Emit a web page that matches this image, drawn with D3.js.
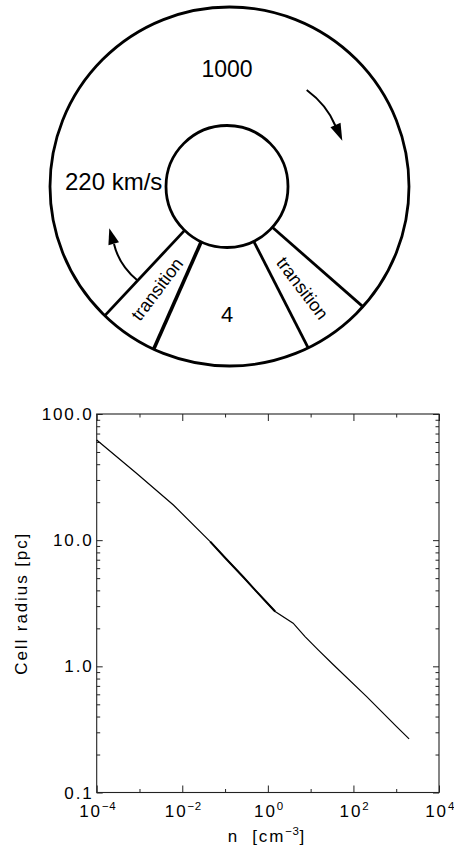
<!DOCTYPE html>
<html>
<head>
<meta charset="utf-8">
<script src="https://cdn.jsdelivr.net/npm/d3@7"></script>
<style>
  html, body { margin: 0; padding: 0; background: #fff; }
  svg { display: block; }
  text { font-family: "Liberation Sans", Arial, Helvetica, sans-serif; fill: #000; }
  .axis-text { font-size: 17px; letter-spacing: 1.9px; white-space: pre; }
</style>
</head>
<body>
<div id="chart"></div>
<script>
// cell radius vs density
const densityN = [1e-4, 8.5e-4, 6.2e-3, 0.045, 0.1, 0.27, 0.5, 0.93, 1.48, 3.9, 7.4, 15, 34, 204, 1020, 2000];
const cellRadius = [62.2, 33.9, 19.0, 9.73, 7.26, 5.08, 4.04, 3.22, 2.72, 2.2, 1.72, 1.35, 1.03, 0.575, 0.333, 0.266];

const yMajorTicks = [0.1, 1, 10, 100];
const yTickLabels = ["0.1", "1.0", "10.0", "100.0"];
const xMajorTicks = [1e-4, 1e-2, 1, 1e2, 1e4];
const xTickExponents = ["\u22124", "\u22122", "0", "2", "4"];
const xMinorTicks = [1e-3, 1e-1, 1e1, 1e3];
const yMinorTicks = [0.1, 1, 10].flatMap((d) => [2, 3, 4, 5, 6, 7, 8, 9].map((m) => d * m));

// ring diagram
const spokeAngles = [134, 115, 64, 42];
const ringLabels = [
  { text: "1000", x: 227, y: 77, size: 23, anchor: "middle" },
  { text: "220 km/s", x: 65, y: 189.5, size: 24, anchor: "start" },
  { text: "4", x: 227, y: 321.5, size: 22, anchor: "middle" }
];
const transitionLabels = [
  { x: 157, y: 289, angle: -53 },
  { x: 302.5, y: 288, angle: 53 }
];

const width = 454;
const height = 846;

const svg = d3.select("#chart")
  .append("svg")
  .attr("width", width)
  .attr("height", height);

function drawRing() {
  const g = svg.append("g");
  const outer = { cx: 229.5, cy: 186.5, r: 179.5 };
  const inner = { cx: 227, cy: 186.5, r: 61 };

  g.append("circle")
    .attr("cx", outer.cx).attr("cy", outer.cy).attr("r", outer.r)
    .attr("fill", "none").attr("stroke", "#000").attr("stroke-width", 2.8);

  g.append("circle")
    .attr("cx", inner.cx).attr("cy", inner.cy).attr("r", inner.r)
    .attr("fill", "none").attr("stroke", "#000").attr("stroke-width", 2.8);

  g.selectAll("line.spoke")
    .data(spokeAngles)
    .enter()
    .append("line")
    .attr("class", "spoke")
    .attr("x1", (a) => inner.cx + inner.r * Math.cos(a * Math.PI / 180))
    .attr("y1", (a) => inner.cy + inner.r * Math.sin(a * Math.PI / 180))
    .attr("x2", (a) => outer.cx + outer.r * Math.cos(a * Math.PI / 180))
    .attr("y2", (a) => outer.cy + outer.r * Math.sin(a * Math.PI / 180))
    .attr("stroke", "#000")
    .attr("stroke-width", (a) => (a === 115 ? 3.6 : 2.8));

  g.selectAll("text.ring-label")
    .data(ringLabels)
    .enter()
    .append("text")
    .attr("class", "ring-label")
    .attr("x", (d) => d.x)
    .attr("y", (d) => d.y)
    .attr("text-anchor", (d) => d.anchor)
    .style("font-size", (d) => `${d.size}px`)
    .text((d) => d.text);

  g.selectAll("text.transition")
    .data(transitionLabels)
    .enter()
    .append("text")
    .attr("class", "transition")
    .attr("transform", (d) => `translate(${d.x},${d.y}) rotate(${d.angle})`)
    .attr("text-anchor", "middle")
    .attr("dy", "0.35em")
    .style("font-size", "18px")
    .text("transition");

  // curved arrows
  const arrows = [
    { path: "M306.7,90 Q327,105 335.5,126", base: [335.5, 125], tip: [342.3, 140.7] },
    { path: "M137,280 Q119,265 114,244", base: [113.7, 243.7], tip: [109.3, 228.3] }
  ];

  arrows.forEach((a) => {
    g.append("path")
      .attr("d", a.path)
      .attr("fill", "none")
      .attr("stroke", "#000")
      .attr("stroke-width", 2);

    const dx = a.tip[0] - a.base[0];
    const dy = a.tip[1] - a.base[1];
    const len = Math.hypot(dx, dy);
    const nx = -dy / len * 5.5;
    const ny = dx / len * 5.5;
    g.append("path")
      .attr("d", `M${a.tip[0]},${a.tip[1]} L${a.base[0] + nx},${a.base[1] + ny} L${a.base[0] - nx},${a.base[1] - ny} Z`)
      .attr("fill", "#000");
  });
}

function drawPlot() {
  const left = 96.7, right = 439, top = 414, bottom = 792.5;

  const x = d3.scaleLog().domain([1e-4, 1e4]).range([left, right]);
  const y = d3.scaleLog().domain([0.1, 100]).range([bottom, top]);

  const g = svg.append("g");

  function tickAxis(axis, transform) {
    const a = g.append("g")
      .attr("transform", transform)
      .call(axis);
    a.select(".domain").remove();
    a.selectAll("line").attr("stroke", "#222").attr("stroke-width", 1);
    a.selectAll("text").remove();
  }

  tickAxis(d3.axisBottom(x).tickValues(xMajorTicks).tickSize(-7), `translate(0,${bottom})`);
  tickAxis(d3.axisBottom(x).tickValues(xMinorTicks).tickSize(-3.5), `translate(0,${bottom})`);
  tickAxis(d3.axisTop(x).tickValues(xMajorTicks).tickSize(-7), `translate(0,${top})`);
  tickAxis(d3.axisTop(x).tickValues(xMinorTicks).tickSize(-3.5), `translate(0,${top})`);
  tickAxis(d3.axisLeft(y).tickValues(yMajorTicks).tickSize(-6), `translate(${left},0)`);
  tickAxis(d3.axisLeft(y).tickValues(yMinorTicks).tickSize(-3.5), `translate(${left},0)`);
  tickAxis(d3.axisRight(y).tickValues(yMajorTicks).tickSize(-6), `translate(${right},0)`);
  tickAxis(d3.axisRight(y).tickValues(yMinorTicks).tickSize(-3.5), `translate(${right},0)`);

  g.append("rect")
    .attr("x", left).attr("y", top)
    .attr("width", right - left).attr("height", bottom - top)
    .attr("fill", "none")
    .attr("stroke", "#222")
    .attr("stroke-width", 1.1);

  // y tick labels
  g.selectAll("text.ylab")
    .data(yMajorTicks)
    .enter()
    .append("text")
    .attr("class", "axis-text ylab")
    .attr("x", left - 3)
    .attr("y", (d) => y(d))
    .attr("dy", "0.36em")
    .attr("text-anchor", "end")
    .text((d, i) => yTickLabels[i]);

  // x tick labels with superscript exponents
  const xl = g.selectAll("text.xlab")
    .data(xMajorTicks)
    .enter()
    .append("text")
    .attr("class", "axis-text xlab")
    .attr("x", (d) => x(d) + 1)
    .attr("y", 817)
    .attr("text-anchor", "middle");
  xl.append("tspan").text("10");
  xl.append("tspan")
    .attr("dy", -7)
    .style("font-size", "11.5px")
    .style("letter-spacing", "0.5px")
    .text((d, i) => xTickExponents[i]);

  const xt = g.append("text")
    .attr("class", "axis-text")
    .attr("x", (left + right) / 2 - 1)
    .attr("y", 841.5)
    .attr("text-anchor", "middle");
  xt.append("tspan").text("n  [cm");
  xt.append("tspan").attr("dy", -7).style("font-size", "11.5px").style("letter-spacing", "0.5px").text("\u22123");
  xt.append("tspan").attr("dy", 7).text("]");

  g.append("text")
    .attr("class", "axis-text")
    .attr("transform", `translate(27,${(top + bottom) / 2}) rotate(-90)`)
    .attr("text-anchor", "middle")
    .text("Cell radius [pc]");

  const pts = densityN.map((n, i) => [n, cellRadius[i]]);
  const line = d3.line()
    .x((d) => x(d[0]))
    .y((d) => y(d[1]));

  g.append("path")
    .datum(pts)
    .attr("d", line)
    .attr("fill", "none")
    .attr("stroke", "#000")
    .attr("stroke-width", 1.2);

  // denser middle section renders heavier in the original
  g.append("path")
    .datum(pts.filter((d) => d[0] >= 0.045 && d[0] <= 1.48))
    .attr("d", line)
    .attr("fill", "none")
    .attr("stroke", "#000")
    .attr("stroke-width", 2);
}

drawRing();
drawPlot();
</script>
</body>
</html>
